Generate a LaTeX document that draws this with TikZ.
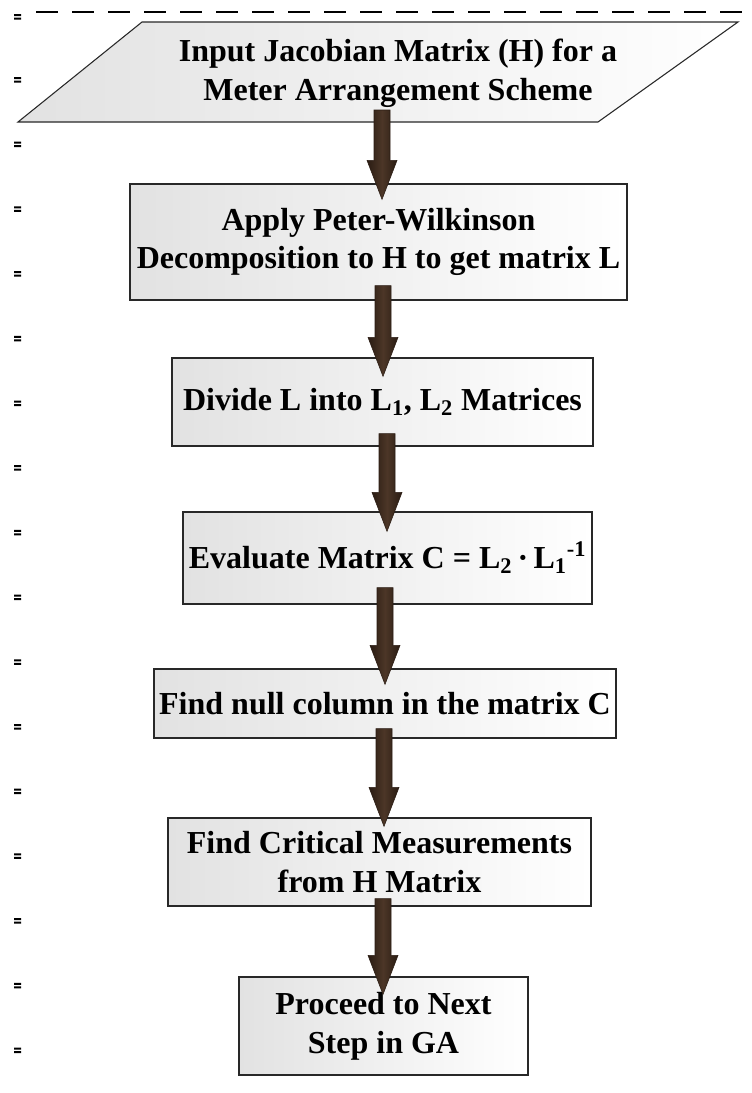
\documentclass[tikz,border=0pt]{standalone}
\usepackage{fontspec}
\setmainfont{Liberation Serif}
\usetikzlibrary{calc}

\definecolor{boxshade}{RGB}{226,226,226}
\definecolor{edgegray}{RGB}{40,40,40}
\definecolor{arrowdark}{RGB}{42,28,19}
\definecolor{arrowlight}{RGB}{76,54,39}

\newcommand{\flowfont}{\fontsize{24}{29}\selectfont\bfseries}

\tikzset{
  stepbox/.style={draw=edgegray, line width=0.9pt, left color=boxshade,
    right color=white, inner sep=0pt, align=center, font=\flowfont},
  flowtext/.style={inner sep=0pt, align=center, font=\flowfont},
  blockarrow/.style={draw=arrowdark, line width=0.4pt, left color=arrowdark,
    right color=arrowdark, middle color=arrowlight},
  sidemark/.style={fill=black},
}

% block arrow: #1 source, #2 target, #3 x of the arrow axis,
% #4 start above source bottom, #5 tip below target top (pixels)
\newcommand{\linkarrow}[5]{%
  \coordinate (ax) at (#3,0);
  \coordinate (aS) at ($(#1.south -| ax)+(0,-#4)$);
  \coordinate (aT) at ($(#2.north -| ax)+(0,#5)$);
  \shadedraw[blockarrow] let \p1=(aS), \p2=(aT) in
    (\x1-6pt,\y1) -- (\x1+6pt,\y1) -- (\x1+6pt,\y2+29.25pt)
    -- (\x1+11.25pt,\y2+29.25pt) -- (\x1,\y2) -- (\x1-11.25pt,\y2+29.25pt)
    -- (\x1-6pt,\y2+29.25pt) -- cycle;
}

\begin{document}
\begin{tikzpicture}[x=0.75pt, y=-0.75pt]
\useasboundingbox (0,0) rectangle (752,1093);

% top dashed border
\draw[line width=1.5pt, dash pattern=on 16.5pt off 10.5pt] (36,12) -- (752,12);

% marks of the left border
\fill[sidemark] (14,14) rectangle (21,16) (14,17.5) rectangle (21,19.5);
\foreach \k in {0,...,15} {
  \pgfmathsetmacro{\yy}{80+64.7*\k}
  \fill[sidemark] (14,\yy-3) rectangle (21,\yy-1) (14,\yy+0.5) rectangle (21,\yy+2.5);
}

% input parallelogram
\shadedraw[draw=edgegray, line width=0.8pt, left color=boxshade, right color=white]
  (142,22) -- (738,22) -- (598,122) -- (18,122) -- cycle;
\node[flowtext] (input) at (398,73)
  {Input Jacobian Matrix (H) for a\\Meter Arrangement Scheme};
\coordinate (inbase) at (382,122);

% process steps
\node[stepbox, minimum width=372.75pt, minimum height=87pt] (apply) at (378.5,242)
  {Apply Peter-Wilkinson\\Decomposition to H to get matrix L};
\node[stepbox, minimum width=315.75pt, minimum height=66pt] (divide) at (382.5,402)
  {Divide L into L\textsubscript{1}, L\textsubscript{2} Matrices};
\node[stepbox, minimum width=306.75pt, minimum height=69pt] (evaluate) at (387.5,558)
  {Evaluate Matrix C = L\textsubscript{2}\,·\,L\textsubscript{1}\textsuperscript{-1}};
\node[stepbox, minimum width=346.5pt, minimum height=51.75pt] (nullcol) at (385,703.5)
  {Find null column in the matrix C};
\node[stepbox, minimum width=317.25pt, minimum height=66pt] (critical) at (379.5,862)
  {Find Critical Measurements\\from H Matrix};
\node[stepbox, minimum width=216.75pt, minimum height=73.5pt] (proceed) at (383.5,1026)
  {Proceed to Next\\Step in GA};

% connecting block arrows
\linkarrow{inbase}{apply}{382}{12}{16}
\linkarrow{apply}{divide}{383}{15}{19}
\linkarrow{divide}{evaluate}{387}{13}{20}
\linkarrow{evaluate}{nullcol}{385}{17}{16}
\linkarrow{nullcol}{critical}{384}{10}{9}
\linkarrow{critical}{proceed}{383}{8}{18}
\end{tikzpicture}
\end{document}
